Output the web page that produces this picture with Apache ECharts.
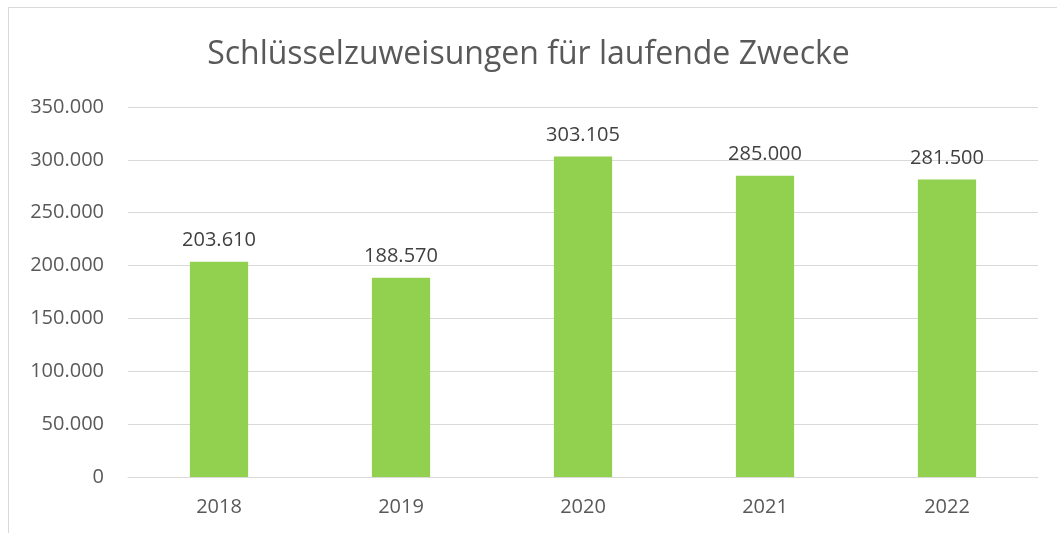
<!DOCTYPE html>
<html>
<head>
<meta charset="utf-8">
<title>Schlüsselzuweisungen für laufende Zwecke</title>
<script src="https://cdn.jsdelivr.net/npm/echarts@6/dist/echarts.min.js"></script>
<style>
	html, body { margin: 0; padding: 0; background: #fff; }
	#frame {
		position: absolute; left: 8px; top: 7px; right: -2px; bottom: -2px;
		border-left: 1px solid #d9d9d9; border-top: 1px solid #d9d9d9;
	}
	#chart { position: absolute; left: 0; top: 0; width: 1057px; height: 533px; }
</style>
</head>
<body>
<div id="frame"></div>
<div id="chart"></div>
<script>
/*
 * 数据
 */
var years = ['2018', '2019', '2020', '2021', '2022'];
var amounts = [203610, 188570, 303105, 285000, 281500];
var yMax = 350000;
var yStep = 50000;

// 德式千位分隔
var formatDE = function(v) {
	return String(v).replace(/\B(?=(\d{3})+(?!\d))/g, '.');
};

var chart = echarts.init(document.getElementById('chart'));
var option = {
	animation: false,
	textStyle: { fontFamily: 'Open Sans' },
	title: {
		text: 'Schlüsselzuweisungen für laufende Zwecke',
		left: 'center',
		top: 34,
		textStyle: {
			fontSize: 32,
			fontWeight: 'normal',
			color: '#595959',
			fontFamily: 'Open Sans'
		}
	},
	grid: {
		left: 128,
		right: 19,
		top: 107,
		bottom: 56,
		containLabel: false
	},
	xAxis: {
		type: 'category',
		data: years,
		axisLine: { lineStyle: { color: '#d9d9d9', width: 1 } },
		axisTick: { show: false },
		axisLabel: { color: '#595959', fontSize: 20, margin: 20 }
	},
	yAxis: {
		type: 'value',
		min: 0,
		max: yMax,
		interval: yStep,
		axisLine: { show: false },
		axisTick: { show: false },
		splitLine: { lineStyle: { color: '#d9d9d9', width: 1 } },
		axisLabel: {
			color: '#595959',
			fontSize: 20,
			margin: 24,
			formatter: function(v) { return formatDE(v); }
		}
	},
	series: [{
		type: 'bar',
		data: amounts,
		barWidth: '32%',
		itemStyle: { color: '#92d050' },
		label: {
			show: true,
			position: 'top',
			distance: 11,
			color: '#404040',
			fontSize: 20,
			formatter: function(p) { return formatDE(p.value); }
		}
	}]
};
chart.setOption(option);
</script>
</body>
</html>
